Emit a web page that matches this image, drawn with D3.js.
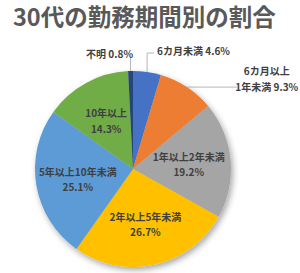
<!DOCTYPE html>
<html>
<head>
<meta charset="utf-8">
<script src="https://cdn.jsdelivr.net/npm/d3@7"></script>
<style>
  html, body { margin: 0; padding: 0; background: #fff; }
  svg { display: block; }
</style>
</head>
<body>
<div id="chart"></div>
<script>
// chart data
const title = "30代の勤務期間別の割合"
const categories = ["6カ月未満", "6カ月以上1年未満", "1年以上2年未満", "2年以上5年未満", "5年以上10年未満", "10年以上", "不明"]
const values = [4.6, 9.3, 19.2, 26.7, 25.1, 14.3, 0.8]
const labelLines = [
    ["6カ月未満 4.6%"],
    ["6カ月以上", "1年未満 9.3%"],
    ["1年以上2年未満", "19.2%"],
    ["2年以上5年未満", "26.7%"],
    ["5年以上10年未満", "25.1%"],
    ["10年以上", "14.3%"],
    ["不明 0.8%"]
]
const colors = ["#4472C4", "#ED7D31", "#A5A5A5", "#FFC000", "#5B9BD5", "#70AD47", "#264478"]

document.addEventListener("DOMContentLoaded", () => {
    let width = 300,
        height = 273
    let cx = 133, cy = 169, radius = 98
    let font = "'Noto Sans CJK JP', 'Noto Sans', sans-serif"

    let svg = d3.select("#chart")
        .append("svg")
        .attr("width", width)
        .attr("height", height)

    let defs = svg.append("defs")
    let shadow = defs.append("filter")
        .attr("id", "shadow")
        .attr("x", "-20%").attr("y", "-20%")
        .attr("width", "140%").attr("height", "140%")
    shadow.append("feDropShadow")
        .attr("dx", 2).attr("dy", 3)
        .attr("stdDeviation", 3)
        .attr("flood-color", "#000")
        .attr("flood-opacity", 0.35)

    svg.append("text")
        .attr("x", 13)
        .attr("y", 26)
        .attr("fill", "#595959")
        .attr("font-family", font)
        .attr("font-weight", "bold")
        .attr("font-size", 23.5)
        .text(title)

    let pie = d3.pie().sort(null).value(d => d)
    let arcs = pie(values)

    let arc = d3.arc().innerRadius(0).outerRadius(radius)
    let labelArc = d3.arc().innerRadius(56).outerRadius(56)
    let edgeArc = d3.arc().innerRadius(radius).outerRadius(radius)

    let g = svg.append("g")
        .attr("transform", `translate(${cx},${cy})`)

    g.append("g")
        .attr("filter", "url(#shadow)")
        .selectAll("path")
        .data(arcs)
        .enter().append("path")
        .attr("d", arc)
        .attr("fill", (d, i) => colors[i])

    // outside labels: leader line + text offsets relative to the slice edge
    let outside = {
        0: { leader: [[0, 0], [0, -19], [7, -19]], anchor: "start", dx: 10, dy: -22 },
        1: { leader: [[0, 0], [51, 0]], anchor: "middle", dx: 80, dy: -9 },
        6: { leader: [[0, 0], [0, -13]], anchor: "end", dx: 2.5, dy: -18 }
    }
    let lineH = 15.5

    let labels = g.append("g")
        .attr("font-family", font)
        .attr("font-weight", "bold")
        .attr("font-size", 10)
        .attr("fill", "#404040")

    arcs.forEach((d, i) => {
        let lines = labelLines[i]
        let x, y, anchor
        if (outside[i]) {
            let o = outside[i]
            let [ex, ey] = edgeArc.centroid(d)
            g.append("path")
                .attr("d", d3.line()(o.leader.map(p => [ex + p[0], ey + p[1]])))
                .attr("fill", "none")
                .attr("stroke", "#a6a6a6")
                .attr("stroke-width", 0.8)
            x = ex + o.dx
            y = ey + o.dy
            anchor = o.anchor
        } else {
            [x, y] = labelArc.centroid(d)
            anchor = "middle"
        }
        let t = labels.append("text")
            .attr("text-anchor", anchor)
            .attr("dominant-baseline", "central")
        lines.forEach((s, k) => {
            t.append("tspan")
                .attr("x", x)
                .attr("y", y + (k - (lines.length - 1) / 2) * lineH)
                .text(s)
        })
    })
})
</script>
</body>
</html>
